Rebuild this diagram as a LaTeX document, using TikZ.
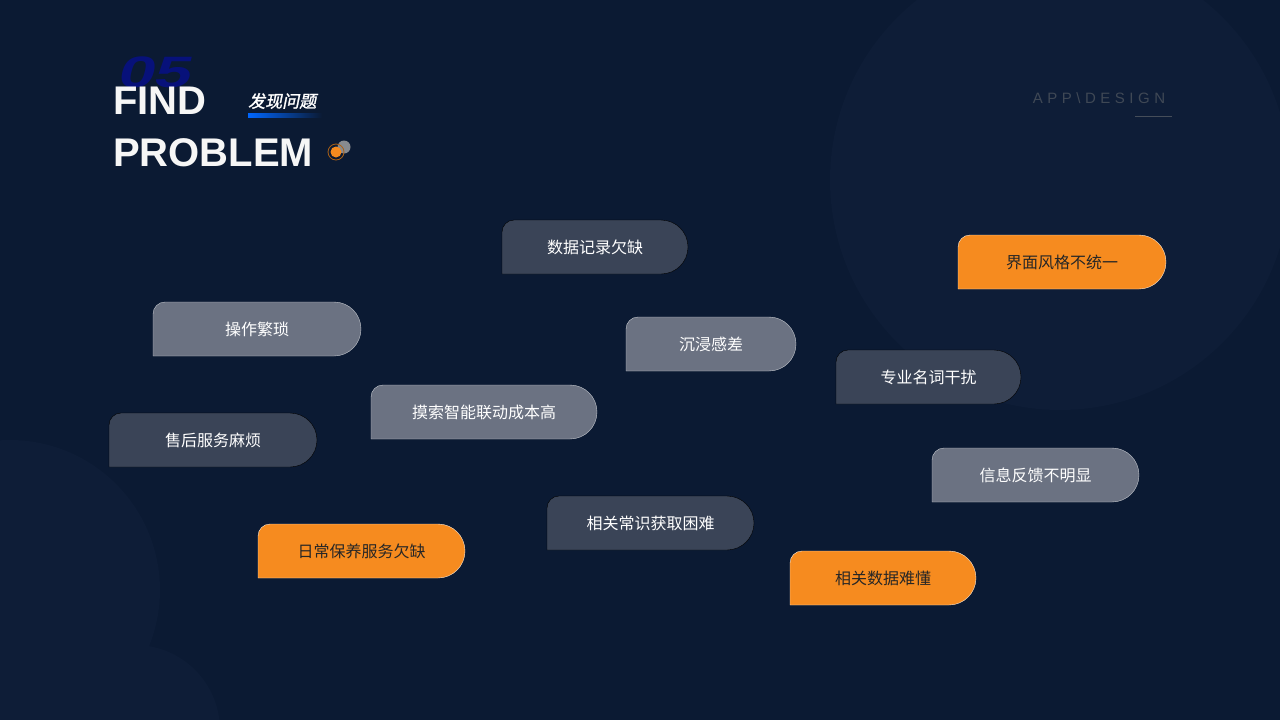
\documentclass[tikz,border=0pt]{standalone}
\usepackage{fontspec}
\setmainfont{Liberation Sans}
\newfontfamily\cjk{Noto Sans CJK SC}
\newfontfamily\cjki[FakeSlant=0.2,FakeBold=1.5]{Noto Sans CJK SC}
\newfontfamily\spaced[LetterSpace=30]{Liberation Sans}
\newfontfamily\wide[FakeStretch=1.5,FakeSlant=0.25]{Liberation Sans}
\definecolor{bg}{HTML}{0B1A33}
\definecolor{bgc}{HTML}{0E1D37}
\definecolor{darkbox}{HTML}{3A4457}
\definecolor{graybox}{HTML}{6B7282}
\definecolor{orng}{HTML}{F68B1F}
\tikzset{
 lbl/.style={font=\cjk\fontsize{16}{18}\selectfont,text=white},
 olbl/.style={font=\cjk\fontsize{16}{18}\selectfont,text=black!85},
 title/.style={anchor=west,font=\bfseries\fontsize{40}{40}\selectfont,text=white!93!gray,inner sep=0},
}
% \pill{name}{x1}{y1}{x2}{y2}{style}{labelstyle}{text}
\newcommand\pill[8]{%
 \pgfmathsetmacro\hh{(#5-#3)/2}%
 \draw[#6] (#2,-#5) -- (#2,-#3-12) arc(180:90:12) -- ({#4-\hh},-#3) arc(90:-90:\hh) -- cycle;
 \node[#7] (#1) at ({(#2+#4)/2},{-(#3+#5)/2}) {#8};}
\begin{document}
\begin{tikzpicture}[x=1pt,y=1pt]
\fill[bg] (0,0) rectangle (1280,-720);
\useasboundingbox (0,0) rectangle (1280,-720);
\fill[bgc] (1060,-180) circle (230);
\fill[bgc] (10,-590) circle (150);
\fill[bgc] (135,-730) circle (85);
% title
\node[anchor=west,font=\wide\bfseries\fontsize{44}{44}\selectfont,text=blue!35!bg,inner sep=0] (n05) at (116,-72) {05};
\node[title] (find) at (113,-101) {FIND};
\node[title] (prob) at (113,-153) {PROBLEM};
\node[anchor=west,font=\cjki\fontsize{17}{17}\selectfont,text=white,inner sep=0] (fx) at (248,-101) {发现问题};
\fill[left color=blue!60!cyan, right color=bg] (248,-113) rectangle (322,-117);
\fill[gray!70,opacity=0.8] (344,-147) circle (6.5);
\draw[orng!70!black,line width=0.8pt] (336,-152) circle (8);
\fill[orng] (336,-152) circle (5.5);
\node[font=\spaced\fontsize{15}{15}\selectfont,text=gray!45!bg] (app) at (1099,-98) {APP\textbackslash DESIGN};
\draw[gray!50!bg] (1135,-116) -- (1172,-116);
% boxes
\pill{b1}{502}{220}{688}{274}{fill=darkbox}{lbl}{数据记录欠缺}
\pill{b2}{958}{235}{1166}{289}{fill=orng,draw=white!80!orng}{olbl}{界面风格不统一}
\pill{b3}{153}{302}{361}{356}{fill=graybox,draw=white!60!graybox}{lbl}{操作繁琐}
\pill{b4}{626}{317}{796}{371}{fill=graybox,draw=white!60!graybox}{lbl}{沉浸感差}
\pill{b5}{836}{350}{1021}{404}{fill=darkbox}{lbl}{专业名词干扰}
\pill{b6}{371}{385}{597}{439}{fill=graybox,draw=white!60!graybox}{lbl}{摸索智能联动成本高}
\pill{b7}{109}{413}{317}{467}{fill=darkbox}{lbl}{售后服务麻烦}
\pill{b8}{932}{448}{1139}{502}{fill=graybox,draw=white!60!graybox}{lbl}{信息反馈不明显}
\pill{b9}{547}{496}{754}{550}{fill=darkbox}{lbl}{相关常识获取困难}
\pill{b10}{258}{524}{465}{578}{fill=orng,draw=white!80!orng}{olbl}{日常保养服务欠缺}
\pill{b11}{790}{551}{976}{605}{fill=orng,draw=white!80!orng}{olbl}{相关数据难懂}
\end{tikzpicture}
\end{document}
